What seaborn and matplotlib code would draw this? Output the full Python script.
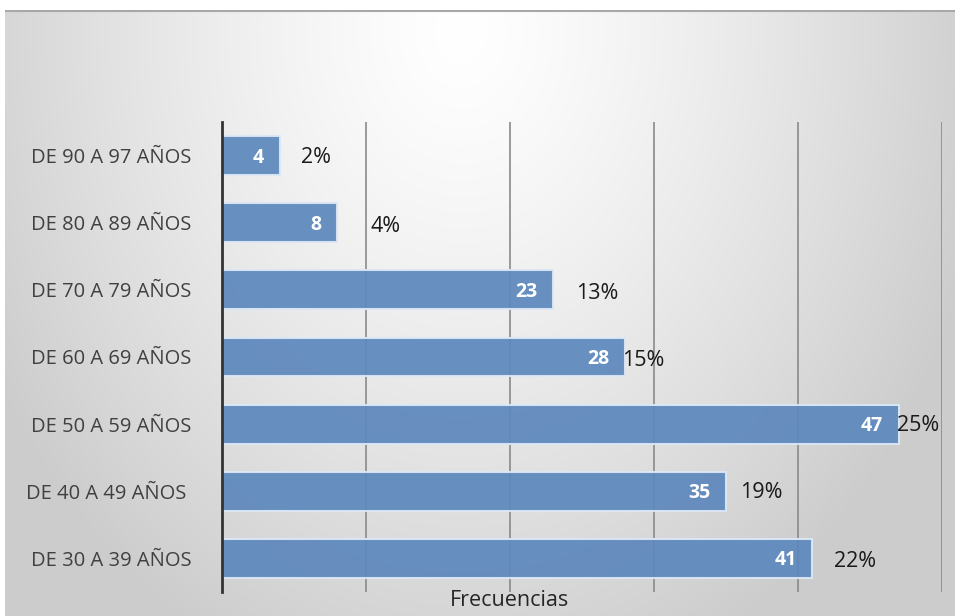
import numpy as np
import pandas as pd
import matplotlib
matplotlib.use('Agg')
import matplotlib.pyplot as plt
import seaborn as sns

# datos del gráfico (de arriba hacia abajo)
grupos = ['DE 90 A 97 AÑOS', 'DE 80 A 89 AÑOS', 'DE 70 A 79 AÑOS', 'DE 60 A 69 AÑOS',
          'DE 50 A 59 AÑOS', 'DE 40 A 49 AÑOS ', 'DE 30 A 39 AÑOS']
frecuencias = [4, 8, 23, 28, 47, 35, 41]
porcentajes = ['2%', '4%', '13%', '15%', '25%', '19%', '22%']

# desplazamiento de las etiquetas de porcentaje (unidades de datos, estilo)
pct_dx = [1.5, 2.3, 1.6, -0.2, -0.1, 1.0, 1.5]
pct_dy = [0.03, 0.05, 0.05, 0.05, 0.02, 0.02, 0.05]

df = pd.DataFrame({'grupo': grupos, 'frecuencia': frecuencias})

sns.set_style('white')
plt.rcParams['font.family'] = ['Open Sans', 'DejaVu Sans']

fig = plt.figure(figsize=(9.58, 6.16), dpi=100)

# fondo degradado
bg = fig.add_axes([5 / 958, 0, 950 / 958, 606 / 616], zorder=-10)
h, w = 606, 950
yy, xx = np.mgrid[0:h, 0:w]
d = np.sqrt(((xx - w * 0.48) / (w * 0.55)) ** 2 + ((yy - 20) / (h * 1.1)) ** 2)
g = np.clip(1.0 - 0.19 * d ** 1.3, 0.80, 1.0)
bg.imshow(np.dstack([g, g, g]), aspect='auto', extent=[0, w, h, 0])
bg.axhline(1, color='#a8a8a8', lw=1.5)
bg.set_axis_off()

ax = fig.add_axes([222 / 958, 1 - 592 / 616, 720 / 958, 470 / 616])
ax.patch.set_alpha(0)

sns.barplot(data=df, y='grupo', x='frecuencia', orient='h', ax=ax,
            color='#4d87cc', alpha=0.93, width=0.58,
            edgecolor='#dce8f6', linewidth=1.5, zorder=3)

ax.set_xlim(0, 50)
ax.set_ylim(6.5, -0.5)
ax.set_xticks([10, 20, 30, 40, 50])
ax.set_xticklabels([])
ax.tick_params(axis='x', length=0)
ax.tick_params(axis='y', length=0, pad=22, labelsize=14.5, labelcolor='#404040')
ax.grid(axis='x', color='#8a8a8a', lw=1.2, zorder=1)
ax.set_axisbelow(True)
for s in ['top', 'right', 'bottom']:
    ax.spines[s].set_visible(False)
ax.spines['left'].set_color('#333333')
ax.spines['left'].set_linewidth(2)
ax.spines['left'].set_zorder(5)
ax.set_ylabel('')
ax.set_xlabel('')

for i, (v, p) in enumerate(zip(frecuencias, porcentajes)):
    ax.text(v - 1.1, i + 0.03, str(v), ha='right', va='center', color='white',
            fontsize=14, fontweight='bold', zorder=6)
    ax.text(v + pct_dx[i], i + pct_dy[i], p, ha='left', va='center',
            color='#1a1a1a', fontsize=15.5, zorder=6)

fig.text(510 / 958, 1 - 600 / 616, 'Frecuencias', ha='center', va='center',
         fontsize=15.5, color='#262626')

plt.savefig('out.png', dpi=100)
